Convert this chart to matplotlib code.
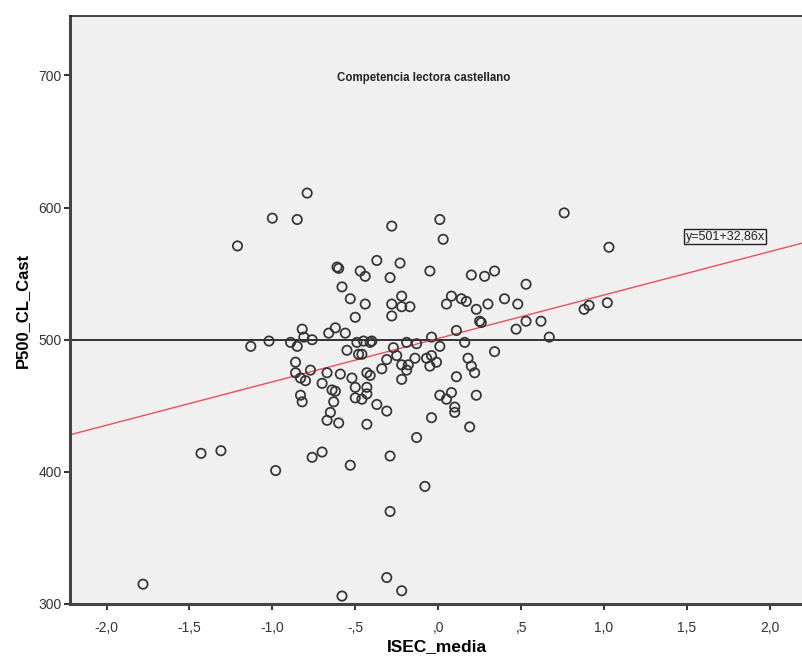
import matplotlib
matplotlib.use('Agg')
import matplotlib.pyplot as plt

plt.rcParams['font.family'] = ['Liberation Sans', 'DejaVu Sans']

# ISEC_media (x) vs P500_CL_Cast (y)
isec = [-0.79, -1.00, -0.85, -1.21, -0.28, 0.01, 0.03, 0.76, 1.03, -0.37,
        -0.23, -0.61, -0.60, -0.47, -0.44, -0.29, -0.05, 0.20, 0.28, 0.34,
        0.53, -0.58, -0.53, -0.44, -0.28, -0.22, -0.22, -0.17, -0.28, -0.50,
        0.08, 0.05, 0.14, 0.17, 0.23, 0.25, 0.26, 0.30, 0.40, 0.48,
        0.53, 0.62, 0.47, 0.67, 0.88, 0.91, 1.02, 0.11, 0.34, -0.82,
        -0.81, -0.62, -0.66, -0.56, -1.13, -1.02, -0.89, -0.85, -0.76, -0.49,
        -0.45, -0.41, -0.40, -0.55, -0.48, -0.46, -0.27, -0.19, -0.13, -0.04,
        0.01, 0.16, -0.86, -0.86, -0.83, -0.80, -0.77, -0.70, -0.67, -0.59,
        -0.52, -0.50, -0.43, -0.41, -0.43, -0.43, -0.46, -0.34, -0.31, -0.25,
        -0.22, -0.19, -0.18, -0.22, -0.14, -0.07, -0.04, -0.05, -0.01, 0.18,
        0.20, 0.22, 0.11, -0.83, -0.82, -0.64, -0.62, -0.63, -0.65, -0.67,
        -0.60, -0.50, -0.37, -0.31, -0.43, 0.01, 0.05, 0.08, 0.23, 0.10,
        0.10, -0.04, 0.19, -0.13, -0.29, -0.08, -1.43, -1.31, -0.98, -0.76,
        -0.70, -0.53, -0.29, -1.78, -0.58, -0.31, -0.22]
p500 = [611, 592, 591, 571, 586, 591, 576, 596, 570, 560,
        558, 555, 554, 552, 548, 547, 552, 549, 548, 552,
        542, 540, 531, 527, 527, 533, 525, 525, 518, 517,
        533, 527, 531, 529, 523, 514, 513, 527, 531, 527,
        514, 514, 508, 502, 523, 526, 528, 507, 491, 508,
        502, 509, 505, 505, 495, 499, 498, 495, 500, 498,
        499, 498, 499, 492, 489, 489, 494, 498, 497, 502,
        495, 498, 483, 475, 471, 469, 477, 467, 475, 474,
        471, 464, 475, 473, 464, 459, 455, 478, 485, 488,
        481, 477, 481, 470, 486, 486, 488, 480, 483, 486,
        480, 475, 472, 458, 453, 462, 461, 453, 445, 439,
        437, 456, 451, 446, 436, 458, 455, 460, 458, 449,
        445, 441, 434, 426, 412, 389, 414, 416, 401, 411,
        415, 405, 370, 315, 306, 320, 310]

intercept, slope = 501, 32.86
ref_y = 500
xticks = [-2.0, -1.5, -1.0, -0.5, 0.0, 0.5, 1.0, 1.5, 2.0]
xtick_labels = ['-2,0', '-1,5', '-1,0', '-,5', ',0', ',5', '1,0', '1,5', '2,0']
yticks = [300, 400, 500, 600, 700]

fig = plt.figure(figsize=(8.03, 6.57), dpi=100)
ax = fig.add_axes([0.0872, 0.0807, 0.9128, 0.8949])
ax.set_facecolor('#f0f0f0')
xlim = (-2.22, 2.2)
ax.set_xlim(*xlim)
ax.set_ylim(300, 745)

ax.axhline(ref_y, color='#222222', lw=1.3, zorder=2)
ax.plot(list(xlim), [intercept + slope * v for v in xlim], color='#e8505a', lw=1.0, zorder=2)
ax.scatter(isec, p500, s=45, facecolors='none', edgecolors='#333333', linewidths=1.25, zorder=3)

ax.text(-0.09, 698, 'Competencia lectora castellano', ha='center', va='center',
        fontsize=8.3, fontweight='bold', color='#222222')
ax.text(1.73, 578, 'y=501+32,86x', ha='center', va='center', fontsize=9, color='#222222',
        bbox=dict(boxstyle='square,pad=0.1', facecolor='none', edgecolor='#222222', lw=1.0))

ax.set_xticks(xticks)
ax.set_xticklabels(xtick_labels)
ax.set_yticks(yticks)
ax.tick_params(direction='out', length=4, width=1.4, color='#333333',
               labelsize=10, labelcolor='#333333')
ax.tick_params(axis='x', pad=8)
ax.tick_params(axis='y', pad=2)
for s in ('left', 'bottom'):
    ax.spines[s].set_linewidth(2.2)
    ax.spines[s].set_color('#444444')
ax.spines['top'].set_linewidth(1.2)
ax.spines['top'].set_color('#222222')
ax.spines['right'].set_visible(False)

ax.set_xlabel('ISEC_media', fontsize=12.5, fontweight='bold', labelpad=3)
ax.set_ylabel('P500_CL_Cast', fontsize=12, fontweight='bold', labelpad=6)

fig.savefig('out.png', dpi=100)
